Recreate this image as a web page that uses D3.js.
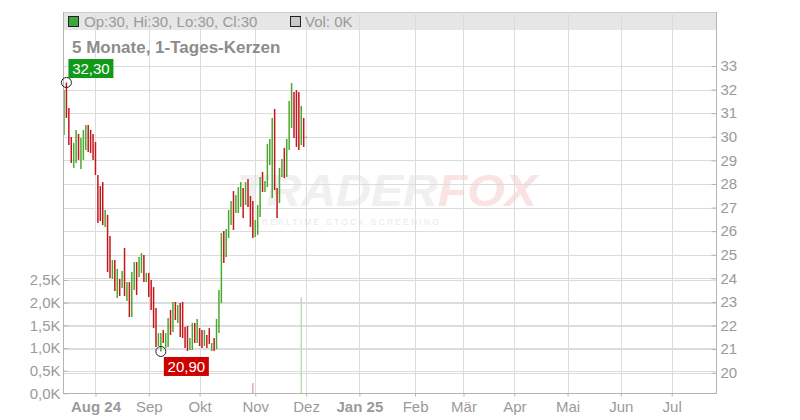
<!DOCTYPE html>
<html><head><meta charset="utf-8">
<script src="https://cdn.jsdelivr.net/npm/d3@7"></script>
<style>
body{margin:0;background:#fff}
svg{display:block}
text{font-family:"Liberation Sans",Arial,Helvetica,sans-serif}
</style>
</head><body>
<svg id="chart" width="800" height="420"></svg>
<script>
// ---------- data ----------
const startDate = "2024-07-15"; // first daily candle (weekday index 0)
const highs = [31.98,32.30,31.22,29.99,29.74,30.29,30.12,29.95,30.29,30.50,
               30.50,30.29,30.12,29.78,28.38,27.91,28.08,26.90,26.69,25.79,
               24.78,24.78,24.40,23.97,24.31,25.29,23.84,23.84,24.27,24.69,
               24.69,24.90,25.07,24.99,24.23,24.23,23.93,23.63,22.74,21.68,
               21.68,21.81,21.68,22.32,22.66,23.00,23.00,22.87,22.95,23.00,
               21.94,21.98,21.47,22.11,22.11,22.28,21.89,21.81,21.81,21.60,
               21.89,21.26,21.47,22.28,23.51,25.92,26.01,26.09,26.90,27.28,
               27.70,27.53,27.87,28.08,27.83,28.08,28.21,27.49,27.28,26.47,
               27.11,28.30,28.51,28.13,29.69,29.91,30.80,31.18,27.83,28.68,
               29.06,29.53,29.91,31.52,32.28,31.90,31.98,31.90,31.31,30.80,
               30.00];
const lows  = [30.08,30.80,29.65,28.89,28.68,28.89,29.02,28.63,29.02,29.44,
               29.36,29.31,29.02,28.38,26.35,26.43,26.26,26.18,24.27,24.01,
               23.97,23.46,23.17,23.25,23.59,23.25,23.04,22.36,22.36,23.51,
               23.29,24.06,24.23,23.84,23.84,23.21,22.66,21.89,21.09,21.13,
               20.90,21.26,21.05,21.09,21.60,21.73,22.23,22.11,21.51,21.47,
               21.05,20.92,20.96,20.96,21.26,21.26,21.13,21.05,21.13,21.05,
               21.22,20.92,20.92,21.00,21.68,22.95,24.65,24.90,25.71,26.26,
               26.05,26.77,26.77,27.02,26.56,27.11,27.02,26.18,25.71,25.75,
               25.84,26.60,27.66,27.66,27.87,28.80,27.41,27.74,26.56,27.19,
               28.30,28.25,28.30,29.44,30.37,29.95,29.57,29.44,29.65,29.57,
               30.00];
// 1 = rising candle (green), -1 = falling candle (red)
const dirs  = [ 1,-1,-1,-1, 1, 1,-1, 1, 1, 1,
               -1,-1,-1,-1,-1,-1,-1, 1,-1,-1,
                1,-1, 1,-1, 1,-1, 1,-1, 1, 1,
               -1, 1, 1,-1, 1,-1,-1,-1,-1, 1,
                1,-1, 1, 1,-1, 1,-1, 1,-1,-1,
               -1,-1, 1, 1,-1, 1,-1,-1, 1,-1,
               -1, 1,-1, 1, 1, 1,-1, 1, 1, 1,
               -1, 1, 1, 1,-1, 1,-1,-1,-1, 1,
                1, 1,-1, 1, 1, 1, 1,-1,-1, 1,
                1,-1, 1, 1, 1,-1,-1,-1, 1,-1,
                1];
// volume in thousands
const volumes = [0,0,0,0,0,0,0,0,0,0, 0,0,0,0,0,0,0,0,0,0,
                 0,0,0,0,0,0,0,0,0,0, 0,0,0,0,0,0,0,0,0,0,
                 0,0,0,0,0,0,0,0,0,0, 0,0,0,0,0,0,0,0,0,0,
                 0,0,0,0,0,0,0,0,0,0, 0,0,0,0,0,0,0,0,0.23,0,
                 0,0,0,0,0,0,0,0,0,0, 0,0,0,0,0,0,0,0,2.12,0,
                 0];
const priceTicks = [20,21,22,23,24,25,26,27,28,29,30,31,32,33];
const volTicks = [0,0.5,1.0,1.5,2.0,2.5];
const monthLabels = ["Aug 24","Sep","Okt","Nov","Dez","Jan 25","Feb","Mär","Apr","Mai","Jun","Jul"];
const monthStarts = ["2024-08-01","2024-09-02","2024-10-01","2024-11-01","2024-12-02","2025-01-01",
                     "2025-02-03","2025-03-03","2025-04-01","2025-05-01","2025-06-02","2025-07-01"];
const boldLabels = ["Aug 24","Jan 25"];
const titleText = "5 Monate, 1-Tages-Kerzen";
const ohlcText = "Op:30, Hi:30, Lo:30, Cl:30";
const volText = "Vol: 0K";

// ---------- setup ----------
const de = d3.formatLocale({decimal:",", thousands:".", grouping:[3], currency:["","€"]});
const fmtPrice = de.format(".2f");
const fmtVol = de.format(".1f");
const GREEN = "#4aa82e", RED = "#c4161c";
const GRID = "#dcdcdc", AXIS = "#b4b4b4", TXT = "#9a9a9a";

const L = 63, R = 717, T = 12, B = 393;
const svg = d3.select("#chart");

const parse = d3.utcParse("%Y-%m-%d");
const d0 = parse(startDate);
const wdIndex = d => d3.utcDays(d0, d).filter(t => t.getUTCDay() % 6 !== 0).length;
const monthIdx = monthStarts.map(s => wdIndex(parse(s)));

const x = d3.scaleLinear().domain([0, 251]).range([64, 671.7]);
const y = d3.scaleLinear().domain([20, 33]).range([372.7, 66.0]);
const yv = d3.scaleLinear().domain([0, 2.5]).range([393.3, 280]);

// header band
svg.append("rect").attr("x", L).attr("y", T).attr("width", R - L).attr("height", 18).attr("fill", "#e6e6e6");
svg.append("line").attr("x1", L).attr("x2", R).attr("y1", T + 0.5).attr("y2", T + 0.5).attr("stroke", "#cfcfcf");

// watermark
const wm = svg.append("g").attr("opacity", 0.5);
wm.append("text").attr("x", 237).attr("y", 206)
  .attr("font-size", 44).attr("font-weight", "bold").attr("font-style", "italic")
  .attr("textLength", 300).attr("lengthAdjust", "spacingAndGlyphs")
  .selectAll("tspan").data([["TRADER", "#e2e2e2"], ["FOX", "#f6c8c8"]]).join("tspan")
  .attr("fill", d => d[1]).text(d => d[0]);
wm.append("text").attr("x", 262).attr("y", 225).attr("font-size", 8.5).attr("letter-spacing", 2.2)
  .attr("fill", "#d4d4d4").text("REALTIME STOCK SCREENING");

// grid
const grid = svg.append("g");
grid.selectAll(".hp").data(priceTicks).join("line")
  .attr("x1", L).attr("x2", R).attr("y1", d => Math.round(y(d)) + 0.5).attr("y2", d => Math.round(y(d)) + 0.5)
  .attr("stroke", GRID);
grid.selectAll(".hv").data(volTicks.filter(v => v > 0)).join("line")
  .attr("x1", L).attr("x2", R).attr("y1", d => Math.round(yv(d)) + 0.5).attr("y2", d => Math.round(yv(d)) + 0.5)
  .attr("stroke", GRID);
grid.selectAll(".vm").data(monthIdx).join("line")
  .attr("x1", d => Math.round(x(d)) + 0.5).attr("x2", d => Math.round(x(d)) + 0.5)
  .attr("y1", T).attr("y2", B).attr("stroke", GRID);

// volume bars
const idx = d3.range(highs.length);
svg.append("g").selectAll("line").data(idx.filter(i => volumes[i] > 0)).join("line")
  .attr("x1", i => x(i)).attr("x2", i => x(i))
  .attr("y1", i => yv(volumes[i])).attr("y2", yv(0))
  .attr("stroke", i => dirs[i] > 0 ? "#b6dcae" : "#e7a3a8").attr("stroke-width", 1.4);

// candles (high-low lines)
svg.append("g").selectAll("line").data(idx).join("line")
  .attr("x1", i => x(i)).attr("x2", i => x(i))
  .attr("y1", i => y(highs[i]))
  .attr("y2", i => Math.max(y(lows[i]), y(highs[i]) + 1))
  .attr("stroke", i => dirs[i] > 0 ? GREEN : RED).attr("stroke-width", 1.5);

// frame
svg.append("line").attr("x1", L + 0.5).attr("x2", L + 0.5).attr("y1", T).attr("y2", B).attr("stroke", AXIS);
svg.append("line").attr("x1", R - 0.5).attr("x2", R - 0.5).attr("y1", T).attr("y2", B).attr("stroke", AXIS);
svg.append("line").attr("x1", L).attr("x2", R).attr("y1", B + 0.5).attr("y2", B + 0.5).attr("stroke", AXIS);

// axes
const styleAxis = g => {
  g.select(".domain").remove();
  g.selectAll(".tick line").attr("stroke", AXIS);
  g.selectAll(".tick text").attr("fill", TXT).attr("font-size", 15)
    .attr("font-family", '"Liberation Sans",Arial,sans-serif');
};
svg.append("g").attr("transform", `translate(${R - 0.5},0)`)
  .call(d3.axisRight(y).tickValues(priceTicks).tickSizeInner(-5).tickSizeOuter(0).tickPadding(4).tickFormat(d3.format("d")))
  .call(styleAxis);
svg.append("g").attr("transform", `translate(${L + 0.5},0)`)
  .call(d3.axisLeft(yv).tickValues(volTicks).tickSizeInner(-4).tickSizeOuter(0).tickPadding(3).tickFormat(d => fmtVol(d) + "K"))
  .call(styleAxis);
svg.append("g").attr("transform", `translate(0,${B + 0.5})`)
  .call(d3.axisBottom(x).tickValues(monthIdx).tickSizeInner(3).tickSizeOuter(0).tickPadding(5).tickFormat((d, i) => monthLabels[i]))
  .call(styleAxis)
  .call(g => g.selectAll(".tick text").attr("font-weight", (d, i) => boldLabels.includes(monthLabels[i]) ? "bold" : "normal"));

// header legend
svg.append("rect").attr("x", 68.5).attr("y", 16.5).attr("width", 10).attr("height", 10)
  .attr("fill", "#3aa83a").attr("stroke", "#222");
svg.append("text").attr("x", 84).attr("y", 26.5).attr("font-size", 15).attr("fill", TXT).text(ohlcText);
svg.append("rect").attr("x", 290.5).attr("y", 16.5).attr("width", 10).attr("height", 10)
  .attr("fill", "#c8c8c8").attr("stroke", "#222");
svg.append("text").attr("x", 305).attr("y", 26.5).attr("font-size", 15).attr("fill", TXT).text(volText);

// title
svg.append("text").attr("x", 72).attr("y", 53).attr("font-size", 17).attr("font-weight", "bold")
  .attr("fill", "#8c8c8c").text(titleText);

// high / low markers
const hiI = d3.maxIndex(highs), loI = d3.minIndex(lows);
const markers = [
  {i: hiI, v: highs[hiI], color: "#11991a", dx: 2, dy: -23.5},
  {i: loI, v: lows[loI], color: "#cc0000", dx: 3, dy: 5.5}
];
markers.forEach(m => {
  const cx = x(m.i), cy = y(m.v);
  const g = svg.append("g");
  g.append("rect").attr("x", cx + m.dx).attr("y", cy + m.dy).attr("width", 45).attr("height", 19).attr("fill", m.color);
  g.append("text").attr("x", cx + m.dx + 22.5).attr("y", cy + m.dy + 15).attr("text-anchor", "middle")
    .attr("font-size", 15).attr("fill", "#fff").text(fmtPrice(m.v));
  g.append("circle").attr("cx", cx).attr("cy", cy).attr("r", 5).attr("fill", "none")
    .attr("stroke", "#222").attr("stroke-width", 1);
});
</script>
</body></html>
